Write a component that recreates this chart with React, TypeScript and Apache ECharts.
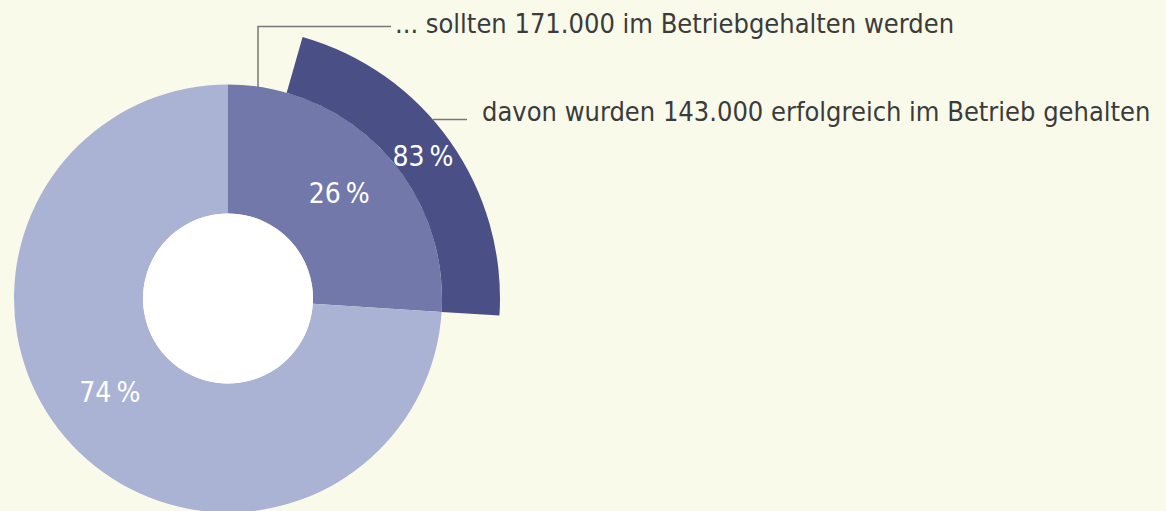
import React, { useEffect, useRef } from "react";
import * as echarts from "echarts";

// Data
const shareLabels = ["26\u2009%", "74\u2009%"];
const shareValues = [26, 74];
const shareColors = ["#7278a9", "#abb3d5"];
const retainedShare = 83;
const retainedLabel = "83\u2009%";
const retainedColor = "#4a5086";
const noteTexts = [
  "... sollten 171.000 im Betriebgehalten werden",
  "davon wurden 143.000 erfolgreich im Betrieb gehalten",
];

const FONT = '"Liberation Sans Narrow", "DejaVu Sans Condensed", "Open Sans", sans-serif';
const CENTER = [228, 298.5];

export default function App() {
  const ref = useRef<HTMLDivElement>(null);
  useEffect(() => {
    document.body.style.margin = "0";
    const chart = echarts.init(ref.current!, null, { renderer: "svg" });
    const inner = shareValues[0];
    const outerData = [
      { value: (inner * (100 - retainedShare)) / 100, itemStyle: { color: "transparent" }, label: { show: false } },
      {
        value: (inner * retainedShare) / 100,
        itemStyle: { color: retainedColor },
        label: { show: true, formatter: retainedLabel, offset: [-6, 0] },
      },
      { value: shareValues[1], itemStyle: { color: "transparent" }, label: { show: false } },
    ];
    const labelOffsets = [[0, -1], [-7, -10]];
    chart.setOption({
      animation: false,
      backgroundColor: "#fafaea",
      series: [
        {
          type: "pie",
          center: CENTER,
          radius: [85, 214],
          startAngle: 90,
          clockwise: true,
          silent: true,
          avoidLabelOverlap: false,
          itemStyle: { borderWidth: 0 },
          label: {
            position: "inside",
            color: "#ffffff",
            fontSize: 28,
            fontFamily: FONT,
            formatter: (p: any) => shareLabels[p.dataIndex],
          },
          labelLine: { show: false },
          data: shareValues.map((v, i) => ({
            value: v,
            name: shareLabels[i],
            itemStyle: { color: shareColors[i] },
            label: { offset: labelOffsets[i] },
          })),
        },
        {
          type: "pie",
          center: CENTER,
          radius: [214, 272],
          startAngle: 90,
          clockwise: true,
          silent: true,
          avoidLabelOverlap: false,
          itemStyle: { borderWidth: 0 },
          label: { position: "inside", color: "#ffffff", fontSize: 28, fontFamily: FONT },
          labelLine: { show: false },
          data: outerData,
        },
        {
          type: "pie",
          center: CENTER,
          radius: [0, 85],
          silent: true,
          label: { show: false },
          labelLine: { show: false },
          itemStyle: { color: "#ffffff", borderWidth: 0 },
          data: [{ value: 1 }],
        },
      ],
      graphic: [
        {
          type: "polyline",
          shape: { points: [[258, 87], [258, 26.5], [391, 26.5]] },
          style: { stroke: "#777777", lineWidth: 1.5, fill: "none" },
          z: 10,
        },
        {
          type: "line",
          shape: { x1: 433, y1: 119.5, x2: 467, y2: 119.5 },
          style: { stroke: "#777777", lineWidth: 1.5 },
          z: 10,
        },
        {
          type: "text",
          x: 395,
          y: 23,
          style: { text: noteTexts[0], fontSize: 27, fontFamily: FONT, fill: "#3b3b3b", verticalAlign: "middle", align: "left" },
          z: 10,
        },
        {
          type: "text",
          x: 482,
          y: 111,
          style: { text: noteTexts[1], fontSize: 27, fontFamily: FONT, fill: "#3b3b3b", verticalAlign: "middle", align: "left" },
          z: 10,
        },
      ],
    });
    return () => chart.dispose();
  }, []);
  return <div ref={ref} style={{ position: "fixed", left: 0, top: 0, width: 1166, height: 511 }} />;
}
